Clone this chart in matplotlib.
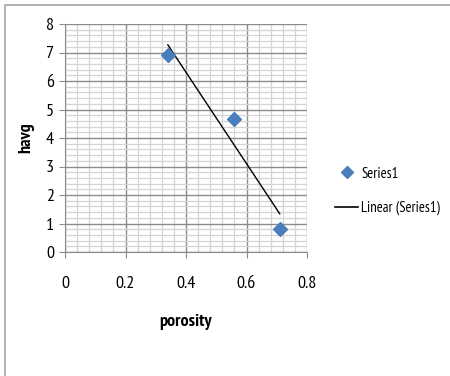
import numpy as np
import matplotlib
matplotlib.use("Agg")
import matplotlib.pyplot as plt
from matplotlib.ticker import MultipleLocator, FixedLocator
from matplotlib.lines import Line2D
from matplotlib.patches import Rectangle

plt.rcParams['font.family'] = ['PT Sans Narrow', 'Roboto Condensed', 'DejaVu Sans']

porosity = [0.34, 0.56, 0.71]
havg = [6.9, 4.65, 0.8]
x_ticks = [0, 0.2, 0.4, 0.6, 0.8]
x_labels = ['0', '0.2', '0.4', '0.6', '0.8']

fig = plt.figure(figsize=(4.5, 3.76), dpi=100)
fig.patches.append(Rectangle((5 / 450, -0.1), 1.2, 1 - 5 / 376 + 0.1,
                             transform=fig.transFigure, fill=False,
                             edgecolor='#a6a6a6', linewidth=1.2))

ax = fig.add_axes([65 / 450, 124 / 376, 242 / 450, 228 / 376])

ax.set_xlim(0, 0.8)
ax.set_ylim(0, 8)
ax.xaxis.set_major_locator(FixedLocator(x_ticks))
ax.set_xticklabels(x_labels)
ax.xaxis.set_minor_locator(MultipleLocator(0.04))
ax.yaxis.set_major_locator(MultipleLocator(1))
ax.yaxis.set_minor_locator(MultipleLocator(0.2))
ax.grid(which='major', color='#8c8c8c', linewidth=1.0)
ax.grid(which='minor', color='#d4d4d4', linewidth=0.9)
ax.set_axisbelow(True)

for side in ['top', 'right']:
    ax.spines[side].set_visible(False)
for side in ['left', 'bottom']:
    ax.spines[side].set_color('#8c8c8c')

ax.tick_params(which='major', length=4, color='#8c8c8c', labelsize=13, pad=4)
ax.tick_params(axis='x', which='major', pad=13)
ax.tick_params(which='minor', length=0)

# linear trendline
k, b = np.polyfit(porosity, havg, 1)
xs = np.array([min(porosity), max(porosity)])
ax.plot(xs, k * xs + b, color='black', linewidth=1.0, zorder=3)

ax.scatter(porosity, havg, marker='D', s=50, color='#4a7ebb', zorder=4)

ax.set_xlabel('porosity', fontweight='bold', fontsize=13, labelpad=16)
ax.set_ylabel('havg', fontweight='bold', fontsize=13, labelpad=8)

handles = [
    Line2D([], [], marker='D', linestyle='none', color='#4a7ebb', markersize=6),
    Line2D([], [], color='black', linewidth=1.2),
]
fig.legend(handles, ['Series1', 'Linear (Series1)'], loc='center left',
           bbox_to_anchor=(335 / 450, 1 - 191 / 376), frameon=False,
           fontsize=10.5, handlelength=1.6, handletextpad=0.2, labelspacing=1.4,
           borderpad=0, borderaxespad=0)

fig.savefig('out.png', dpi=100)
